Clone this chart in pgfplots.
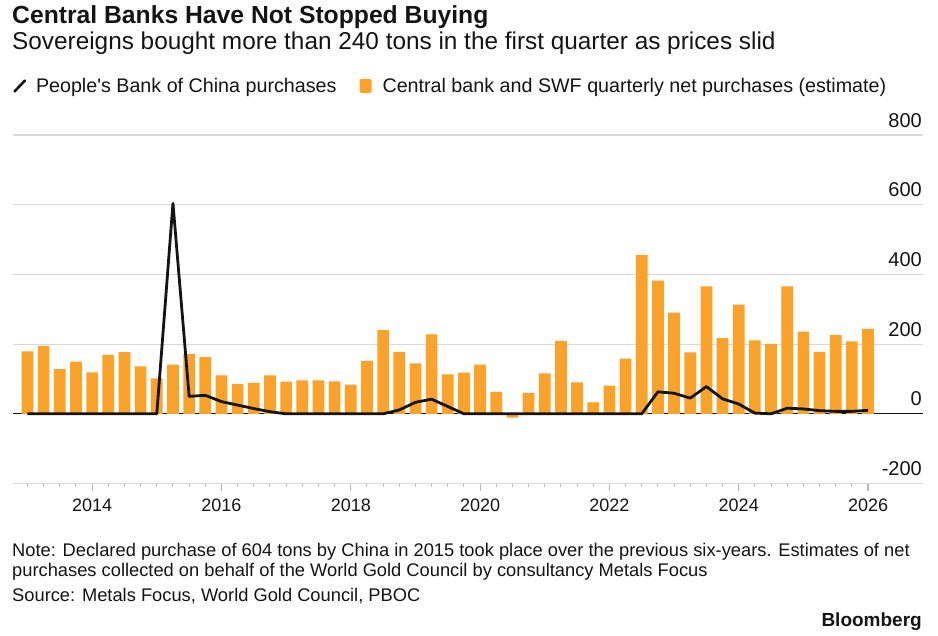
\documentclass[border=0pt]{standalone}
\usepackage{pgfplots}
\pgfplotsset{compat=1.18}
\usepackage{fontspec}
\setmainfont{Liberation Sans}
% same face without the TeX quote mapping, for a straight apostrophe
\newfontfamily\plainsans{Liberation Sans}

\definecolor{barorange}{RGB}{250,162,42}
\definecolor{gridgray}{RGB}{216,216,216}
\definecolor{tickgray}{RGB}{185,185,185}
\definecolor{ink}{RGB}{20,20,20}

% labels of the y grid, right-aligned above each line
\tikzset{ylab/.style={anchor=base east, inner sep=0pt, yshift=8pt, text=ink,
    font=\fontsize{20}{22}\selectfont}}

% Central bank and SWF quarterly net purchases (tons), 2013 Q1 .. 2026 Q1
\pgfplotstableread{
x        y
2013.00  179
2013.25  194
2013.50  128
2013.75  150
2014.00  119
2014.25  169
2014.50  177
2014.75  136
2015.00  102
2015.25  141
2015.50  172
2015.75  163
2016.00  110
2016.25  85
2016.50  89
2016.75  110
2017.00  92
2017.25  96
2017.50  96
2017.75  93
2018.00  84
2018.25  152
2018.50  240
2018.75  178
2019.00  145
2019.25  228
2019.50  113
2019.75  118
2020.00  141
2020.25  63
2020.50  -11
2020.75  60
2021.00  116
2021.25  209
2021.50  90
2021.75  33
2022.00  81
2022.25  158
2022.50  455
2022.75  382
2023.00  290
2023.25  176
2023.50  366
2023.75  217
2024.00  313
2024.25  211
2024.50  201
2024.75  366
2025.00  236
2025.25  178
2025.50  226
2025.75  208
2026.00  244
}\cbdata

% People's Bank of China purchases (tons)
\pgfplotstableread{
x        y
2013.00  0
2013.25  0
2013.50  0
2013.75  0
2014.00  0
2014.25  0
2014.50  0
2014.75  0
2015.00  0
2015.25  604
2015.50  50
2015.75  53
2016.00  35
2016.25  25
2016.50  15
2016.75  6
2017.00  0
2017.25  0
2017.50  0
2017.75  0
2018.00  0
2018.25  0
2018.50  0
2018.75  11
2019.00  33
2019.25  42
2019.50  21
2019.75  0
2020.00  0
2020.25  0
2020.50  0
2020.75  0
2021.00  0
2021.25  0
2021.50  0
2021.75  0
2022.00  0
2022.25  0
2022.50  0
2022.75  63
2023.00  59
2023.25  45
2023.50  78
2023.75  43
2024.00  28
2024.25  2
2024.50  0
2024.75  16
2025.00  14
2025.25  9
2025.50  7
2025.75  7
2026.00  10
}\pbocdata

\begin{document}
\begin{tikzpicture}[x=1pt,y=1pt]
\useasboundingbox (0,0) rectangle (938,-636);

% headline block
\node[anchor=base west, inner sep=0pt, text=ink, font=\bfseries\fontsize{24.7}{28}\selectfont]
  at (12,-24) {Central Banks Have Not Stopped Buying};
\node[anchor=base west, inner sep=0pt, text=ink, font=\fontsize{24.35}{28}\selectfont]
  at (12,-49.3) {Sovereigns bought more than 240 tons in the first quarter as prices slid};

\begin{axis}[
  at={(13pt,-483.5pt)}, anchor=south west,
  scale only axis, width=910pt, height=348.5pt,
  xmin=2012.776, xmax=2026.85,
  ymin=-200, ymax=800,
  clip=false,
  axis line style={draw=none},
  ytick={-200,0,200,400,600,800},
  yticklabels={},
  ytick style={draw=none},
  ymajorgrids, grid style={gridgray, line width=1.2pt},
  extra y ticks={0}, extra y tick labels={},
  extra y tick style={grid style={ink, line width=1pt}},
  xtick={2014,2016,...,2026},
  xticklabels={2014,2016,2018,2020,2022,2024,2026},
  minor xtick={2013,2013.25,...,2025.75},
  xtick pos=bottom, tick align=outside,
  major tick length=7pt, minor tick length=3.5pt,
  xtick style={tickgray, line width=1.2pt},
  minor x tick style={tickgray, line width=1pt},
  xticklabel style={text=ink, yshift=-5pt, font=\fontsize{18}{20}\selectfont},
  legend columns=2,
  legend style={at={(0,1.1406)}, anchor=west, draw=none, fill=none, inner sep=0pt,
    font=\plainsans\fontsize{19.7}{22}\selectfont, text=ink,
    /tikz/every even column/.append style={column sep=21pt}},
  legend cell align=left,
]
\addlegendimage{legend image code/.code={
  \draw[ink, line width=2.6pt, line cap=round] (0.5pt,-5.5pt) -- (11pt,5.5pt);
  \path[draw=none, fill=none] (0pt,-5pt) rectangle (20pt,5pt);}}
\addlegendentry{People's Bank of China purchases}

\addplot[ybar, bar width=11.7pt, fill=barorange, draw=none,
  legend image code/.code={
    \fill[barorange, rounded corners=1.5pt] (0pt,-7pt) rectangle (12pt,7pt);
    \path[draw=none, fill=none] (0pt,-7pt) rectangle (21pt,7pt);}]
  table[x=x, y=y] {\cbdata};
\addlegendentry{Central bank and SWF quarterly net purchases (estimate)}

\addplot[ink, line width=2.8pt, line join=round, mark=none, forget plot]
  table[x=x, y=y] {\pbocdata};

\node[ylab] at (axis cs:2026.835,800)  {800};
\node[ylab] at (axis cs:2026.835,600)  {600};
\node[ylab] at (axis cs:2026.835,400)  {400};
\node[ylab] at (axis cs:2026.835,200)  {200};
\node[ylab] at (axis cs:2026.835,0)    {0};
\node[ylab] at (axis cs:2026.835,-200) {-200};
\end{axis}

% footnotes
\node[anchor=base west, inner sep=0pt, text=ink, font=\fontsize{18.3}{22}\selectfont]
  at (12,-556) {Note: Declared purchase of 604 tons by China in 2015 took place over the previous six-years. Estimates of net};
\node[anchor=base west, inner sep=0pt, text=ink, font=\fontsize{18.3}{22}\selectfont]
  at (12,-576) {purchases collected on behalf of the World Gold Council by consultancy Metals Focus};
\node[anchor=base west, inner sep=0pt, text=ink, font=\fontsize{18.3}{22}\selectfont]
  at (12,-601) {Source: Metals Focus, World Gold Council, PBOC};
\node[anchor=base east, inner sep=0pt, text=ink, font=\bfseries\fontsize{19}{22}\selectfont]
  at (922,-626.7) {Bloomberg};
\end{tikzpicture}
\end{document}
